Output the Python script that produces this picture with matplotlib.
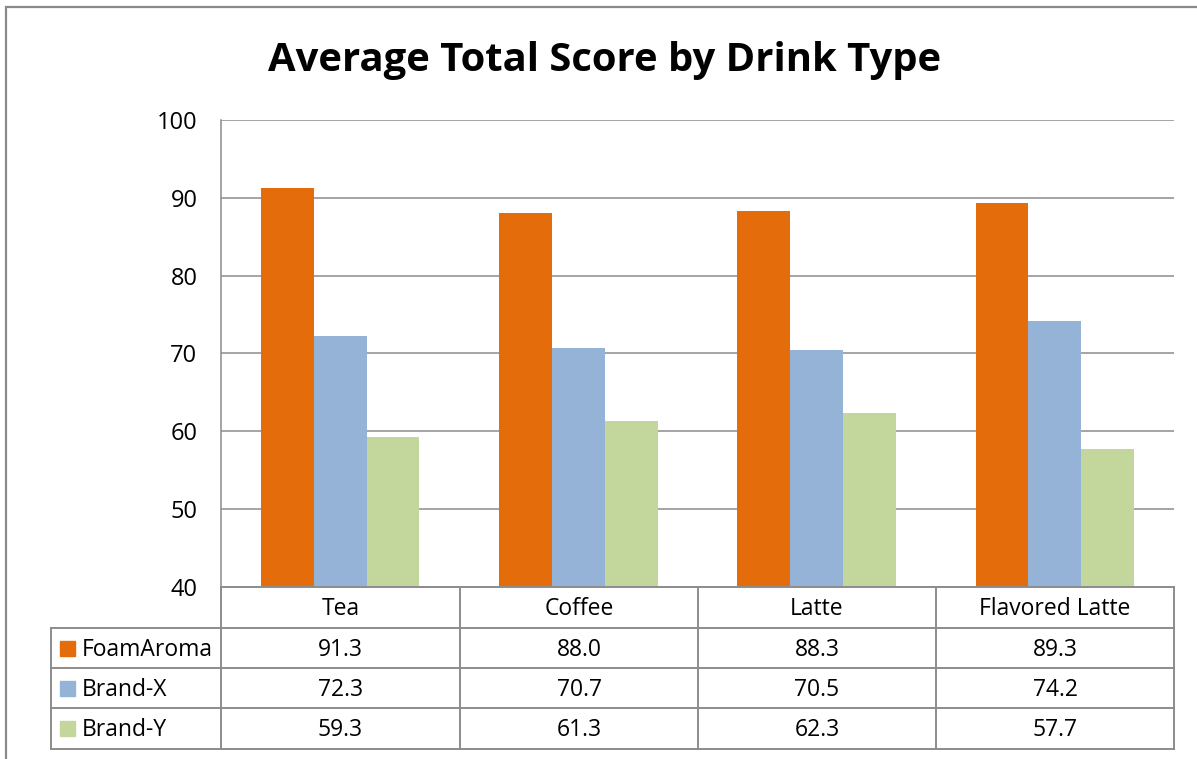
import numpy as np
import matplotlib.pyplot as plt
from matplotlib.patches import Rectangle
from matplotlib.lines import Line2D

drinks = ["Tea", "Coffee", "Latte", "Flavored Latte"]
brands = ["FoamAroma", "Brand-X", "Brand-Y"]
foamaroma = [91.3, 88.0, 88.3, 89.3]
brand_x = [72.3, 70.7, 70.5, 74.2]
brand_y = [59.3, 61.3, 62.3, 57.7]
colors = ["#E46C0A", "#95B3D7", "#C3D69B"]

W, H = 1197, 759
plt.rcParams['font.family'] = ['Open Sans', 'DejaVu Sans']
fig = plt.figure(figsize=(W / 100, H / 100), dpi=100)
grid_c = "#8c8c8c"


def fx(px):
    return px / W


def fy(py):
    return 1 - py / H


# outer chart frame
fig.add_artist(Rectangle((fx(6), fy(1000)), fx(1400), fy(7) - fy(1000), fill=False,
                         edgecolor="#8a8a8a", lw=1.6, transform=fig.transFigure))

left, right, top, bottom = 221, 1174, 120, 587
ax = fig.add_axes([fx(left), fy(bottom), fx(right - left), fy(top) - fy(bottom)])

series = [foamaroma, brand_x, brand_y]
x = np.arange(len(drinks))
bw = 0.222
for i, vals in enumerate(series):
    ax.bar(x + (i - 1) * bw, np.array(vals) - 40, bottom=40, width=bw, color=colors[i], zorder=3)

ax.set_xlim(-0.5, len(drinks) - 0.5)
ax.set_ylim(40, 100)
ax.set_yticks(range(40, 101, 10))
ax.set_xticks([])
ax.tick_params(axis='y', length=0, pad=17, labelsize=17)
ax.yaxis.grid(True, color=grid_c, lw=1.1, zorder=0)
for s in ["top", "right", "bottom"]:
    ax.spines[s].set_visible(False)
ax.spines["left"].set_color(grid_c)
ax.spines["left"].set_linewidth(1.1)

fig.text(fx(605), fy(61), "Average Total Score by Drink Type", ha="center", va="center",
         fontsize=28.8, fontweight="bold")

# data table under the chart
col_edges = [221, 460, 698, 936, 1174]
row_edges = [587, 628, 668, 708, 749]
tl = dict(color=grid_c, lw=1.4, transform=fig.transFigure)
fig.add_artist(Line2D([fx(221), fx(221)], [fy(587), fy(749)], **tl))
for c in col_edges[1:]:
    fig.add_artist(Line2D([fx(c), fx(c)], [fy(587), fy(749)], **tl))
fig.add_artist(Line2D([fx(51), fx(51)], [fy(628), fy(749)], **tl))
fig.add_artist(Line2D([fx(221), fx(1174)], [fy(587), fy(587)], **tl))
for r in row_edges[1:]:
    fig.add_artist(Line2D([fx(51), fx(1174)], [fy(r), fy(r)], **tl))

for j, name in enumerate(drinks):
    cx = (col_edges[j] + col_edges[j + 1]) / 2
    fig.text(fx(cx), fy((row_edges[0] + row_edges[1]) / 2 + 1.5), name, ha="center", va="center", fontsize=16.5)

for i, vals in enumerate(series):
    cy = (row_edges[i + 1] + row_edges[i + 2]) / 2
    fig.add_artist(Rectangle((fx(60), fy(cy + 7.5)), fx(15), fy(cy - 7.5) - fy(cy + 7.5),
                             color=colors[i], transform=fig.transFigure))
    fig.text(fx(82), fy(cy + 1.5), brands[i], ha="left", va="center", fontsize=16.5)
    for j, v in enumerate(vals):
        cx = (col_edges[j] + col_edges[j + 1]) / 2
        fig.text(fx(cx), fy(cy + 1.5), f"{v:.1f}", ha="center", va="center", fontsize=16.5)

fig.savefig("out.png", dpi=100)
